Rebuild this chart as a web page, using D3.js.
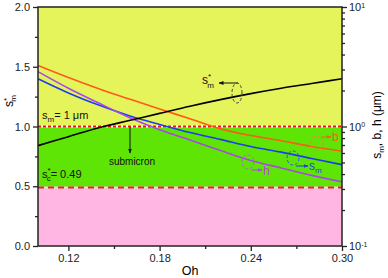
<!DOCTYPE html>
<html>
<head>
<meta charset="utf-8">
<script src="https://cdn.jsdelivr.net/npm/d3@7"></script>
<style>
  body { margin: 0; background: #fff; }
  text { font-family: "Liberation Sans", Arial, sans-serif; }
</style>
</head>
<body>
<div id="graph"></div>
<script>
// Oh values and curves
const oh = [0.10, 0.12, 0.14, 0.16, 0.18, 0.20, 0.22, 0.24, 0.26, 0.28, 0.30];
const sStar = [0.84, 0.915, 0.99, 1.05, 1.11, 1.17, 1.225, 1.275, 1.32, 1.36, 1.40];   // left axis
const bVals = [3.24, 2.57, 2.07, 1.70, 1.40, 1.16, 0.955, 0.84, 0.76, 0.68, 0.62];     // um, right axis
const smVals = [2.51, 1.91, 1.51, 1.23, 1.04, 0.89, 0.78, 0.68, 0.61, 0.54, 0.48];     // um
const hVals = [2.88, 2.09, 1.57, 1.19, 0.94, 0.77, 0.63, 0.52, 0.45, 0.39, 0.345];     // um

const leftTicks = [0, 0.5, 1.0, 1.5, 2.0];
const leftMinor = [0.25, 0.75, 1.25, 1.75];
const bottomTicks = [0.12, 0.18, 0.24, 0.30];
const bottomMinor = [0.15, 0.21, 0.27];
const rightTicks = [0.1, 1, 10];
const rightExp = ["-1", "0", "1"];
const rightMinor = [0.2, 0.3, 0.4, 0.5, 0.6, 0.7, 0.8, 0.9, 2, 3, 4, 5, 6, 7, 8, 9];

const smLimit = 1.0;   // s_m = 1 um
const scCrit = 0.49;   // s*_c

const width = 388;
const height = 278;
const pLeft = 38, pRight = 342, pTop = 7, pBottom = 246;

const svg = d3.select("#graph")
              .append("svg")
              .attr("width", width)
              .attr("height", height);

const x = d3.scaleLinear().domain([0.10, 0.30]).range([pLeft, pRight]);
const y = d3.scaleLinear().domain([0, 2]).range([pBottom, pTop]);
const yLog = d3.scaleLog().domain([0.1, 10]).range([pBottom, pTop]);

// background bands
svg.append("rect").attr("x", pLeft).attr("width", pRight - pLeft)
   .attr("y", y(2)).attr("height", y(smLimit) - y(2)).attr("fill", "#e5f45b");
svg.append("rect").attr("x", pLeft).attr("width", pRight - pLeft)
   .attr("y", y(smLimit)).attr("height", y(scCrit) - y(smLimit)).attr("fill", "#5fe505");
svg.append("rect").attr("x", pLeft).attr("width", pRight - pLeft)
   .attr("y", y(scCrit)).attr("height", y(0) - y(scCrit)).attr("fill", "#ffb6e2");

// threshold lines
svg.append("line").attr("x1", pLeft).attr("x2", pRight)
   .attr("y1", y(smLimit)).attr("y2", y(smLimit))
   .attr("stroke", "#fff").attr("stroke-width", 2);
svg.append("line").attr("x1", pLeft).attr("x2", pRight)
   .attr("y1", y(smLimit)).attr("y2", y(smLimit))
   .attr("stroke", "#f01010").attr("stroke-width", 2).attr("stroke-dasharray", "3,2");
svg.append("line").attr("x1", pLeft).attr("x2", pRight)
   .attr("y1", y(scCrit)).attr("y2", y(scCrit))
   .attr("stroke", "#e8e0d0").attr("stroke-width", 2);
svg.append("line").attr("x1", pLeft).attr("x2", pRight)
   .attr("y1", y(scCrit)).attr("y2", y(scCrit))
   .attr("stroke", "#e82020").attr("stroke-width", 2).attr("stroke-dasharray", "6,4");

// curves
const lineLeft = d3.line().x((d, i) => x(oh[i])).y(d => y(d)).curve(d3.curveMonotoneX);
const lineRight = d3.line().x((d, i) => x(oh[i])).y(d => yLog(d)).curve(d3.curveMonotoneX);

svg.append("path").attr("d", lineRight(bVals)).attr("fill", "none")
   .attr("stroke", "#ff5a1a").attr("stroke-width", 1.6);
svg.append("path").attr("d", lineRight(smVals)).attr("fill", "none")
   .attr("stroke", "#1f3cf0").attr("stroke-width", 1.6);
svg.append("path").attr("d", lineRight(hVals)).attr("fill", "none")
   .attr("stroke", "#a848e8").attr("stroke-width", 1.6);
svg.append("path").attr("d", lineLeft(sStar)).attr("fill", "none")
   .attr("stroke", "#000").attr("stroke-width", 1.6);

// axes
const fontSize = 11;
svg.append("g")
   .attr("transform", `translate(${pLeft}, 0)`)
   .call(d3.axisLeft(y).tickValues(leftTicks).tickFormat(d3.format(".1f")).tickSize(5).tickSizeOuter(0).tickPadding(3));
svg.append("g")
   .attr("transform", `translate(${pLeft}, 0)`)
   .call(d3.axisLeft(y).tickValues(leftMinor).tickFormat("").tickSize(3).tickSizeOuter(0));

svg.append("g")
   .attr("transform", `translate(0, ${pBottom})`)
   .call(d3.axisBottom(x).tickValues(bottomTicks).tickFormat(d3.format(".2f")).tickSize(5).tickSizeOuter(0).tickPadding(3));
svg.append("g")
   .attr("transform", `translate(0, ${pBottom})`)
   .call(d3.axisBottom(x).tickValues(bottomMinor).tickFormat("").tickSize(3).tickSizeOuter(0));

const rightAxis = svg.append("g")
   .attr("transform", `translate(${pRight}, 0)`)
   .call(d3.axisRight(yLog).tickValues(rightTicks).tickFormat("").tickSize(5).tickSizeOuter(0).tickPadding(2));
svg.append("g")
   .attr("transform", `translate(${pRight}, 0)`)
   .call(d3.axisRight(yLog).tickValues(rightMinor).tickFormat("").tickSize(3).tickSizeOuter(0));

rightAxis.selectAll(".tick text").each(function(d, i) {
  const t = d3.select(this);
  t.text("10");
  t.append("tspan").attr("dy", "-0.45em").style("font-size", "7px").text(rightExp[i]);
});

svg.selectAll(".domain").remove();
svg.selectAll(".tick line").attr("stroke", "#222").attr("stroke-width", 1.3);
svg.selectAll(".tick text").style("font-size", fontSize + "px")
   .style("font-family", "Liberation Sans, Arial, sans-serif").attr("fill", "#222");

// frame
svg.append("rect").attr("x", pLeft).attr("y", pTop).attr("width", pRight - pLeft).attr("height", pBottom - pTop)
   .attr("fill", "none").attr("stroke", "#222").attr("stroke-width", 1.5);

// axis titles
svg.append("text")
   .attr("x", (pLeft + pRight) / 2)
   .attr("y", 275)
   .style("text-anchor", "middle")
   .style("font-size", "12.5px")
   .text("Oh");

const ly = svg.append("text")
   .attr("transform", "translate(13, 101) rotate(-90)")
   .style("text-anchor", "middle")
   .style("font-size", "12px");
ly.append("tspan").text("s");
ly.append("tspan").attr("dy", -4).style("font-size", "8px").text("*");
ly.append("tspan").attr("dx", -4).attr("dy", 7).style("font-size", "8px").text("m");

const ry = svg.append("text")
   .attr("transform", "translate(381, 125) rotate(-90)")
   .style("text-anchor", "middle")
   .style("font-size", "12px");
ry.append("tspan").text("s");
ry.append("tspan").attr("dy", 3).style("font-size", "8px").text("m");
ry.append("tspan").attr("dy", -3).text(", b, h (\u03bcm)");

// annotations
const sm1 = svg.append("text").attr("x", 42).attr("y", 119).style("font-size", "11px").attr("fill", "#111");
sm1.append("tspan").text("s");
sm1.append("tspan").attr("dy", 3).style("font-size", "8px").text("m");
sm1.append("tspan").attr("dy", -3).text("= 1 \u03bcm");

const sc = svg.append("text").attr("x", 42).attr("y", 178).style("font-size", "11px").attr("fill", "#111");
sc.append("tspan").text("s");
sc.append("tspan").attr("dy", -5).style("font-size", "8px").text("*");
sc.append("tspan").attr("dx", -4).attr("dy", 8).style("font-size", "8px").text("c");
sc.append("tspan").attr("dy", -3).text("= 0.49");

svg.append("text").attr("x", 132).attr("y", 165).style("text-anchor", "middle")
   .style("font-size", "10px").attr("fill", "#111").text("submicron");

// arrow markers
const defs = svg.append("defs");
[["arrBlack", "#111"], ["arrOrange", "#ff5a1a"], ["arrBlue", "#1f3cf0"], ["arrPurple", "#a848e8"]].forEach(([id, c]) => {
  defs.append("marker").attr("id", id).attr("viewBox", "0 0 10 10").attr("refX", 9).attr("refY", 5)
      .attr("markerWidth", 5).attr("markerHeight", 5).attr("orient", "auto")
      .append("path").attr("d", "M0,1 L10,5 L0,9 Z").attr("fill", c);
});

const arrow = (x1, y1, x2, y2, c, m) => svg.append("line")
   .attr("x1", x1).attr("y1", y1).attr("x2", x2).attr("y2", y2)
   .attr("stroke", c).attr("stroke-width", 1).attr("marker-end", `url(#${m})`);

arrow(130, 127, 130, 153, "#111", "arrBlack");

// s*m callout
const ssm = svg.append("text").attr("x", 202).attr("y", 84).style("font-size", "12px").attr("fill", "#111");
ssm.append("tspan").text("s");
ssm.append("tspan").attr("dy", -5).style("font-size", "8px").text("*");
ssm.append("tspan").attr("dx", -4).attr("dy", 9).style("font-size", "8px").text("m");
arrow(238, 83, 219, 83, "#111", "arrBlack");
svg.append("ellipse").attr("cx", 237).attr("cy", 93).attr("rx", 5).attr("ry", 10)
   .attr("fill", "none").attr("stroke", "#444").attr("stroke-width", 1).attr("stroke-dasharray", "3,2");

// b callout
svg.append("ellipse").attr("cx", 317).attr("cy", 143).attr("rx", 6).attr("ry", 7)
   .attr("fill", "none").attr("stroke", "#ff7a3a").attr("stroke-width", 1).attr("stroke-dasharray", "3,2");
arrow(321, 137, 331, 137, "#ff5a1a", "arrOrange");
svg.append("text").attr("x", 332).attr("y", 141).style("font-size", "12px").attr("fill", "#ff5a1a").text("b");

// sm callout
svg.append("ellipse").attr("cx", 293).attr("cy", 158).attr("rx", 6).attr("ry", 7)
   .attr("fill", "none").attr("stroke", "#3050e0").attr("stroke-width", 1).attr("stroke-dasharray", "3,2");
arrow(296, 166, 308, 166, "#1f3cf0", "arrBlue");
const smT = svg.append("text").attr("x", 309).attr("y", 170).style("font-size", "12px").attr("fill", "#1f3cf0");
smT.append("tspan").text("s");
smT.append("tspan").attr("dy", 3).style("font-size", "8px").text("m");

// h callout
svg.append("ellipse").attr("cx", 248).attr("cy", 162).attr("rx", 6).attr("ry", 7)
   .attr("fill", "none").attr("stroke", "#b060e0").attr("stroke-width", 1).attr("stroke-dasharray", "3,2");
arrow(251, 170, 262, 170, "#a848e8", "arrPurple");
svg.append("text").attr("x", 263).attr("y", 175).style("font-size", "12px").attr("fill", "#a848e8").text("h");
</script>
</body>
</html>
